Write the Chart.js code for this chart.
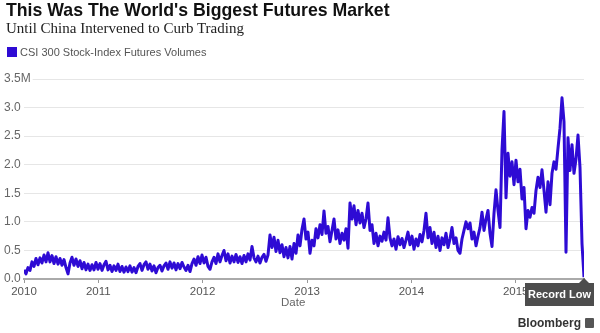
<!DOCTYPE html>
<html>
<head>
<meta charset="utf-8">
<script src="https://cdn.jsdelivr.net/npm/chart.js@4.4.1/dist/chart.umd.min.js"></script>
<style>
    html, body { margin: 0; padding: 0; background: #fff; }
    #wrap { position: relative; width: 600px; height: 333px; overflow: hidden; font-family: 'Liberation Sans', Arial, sans-serif; }
    #chart { position: absolute; left: 0; top: 0; }
    .title { position: absolute; left: 6px; top: 0; font-size: 17.7px; font-weight: bold; color: #111; white-space: nowrap; }
    .sub { position: absolute; left: 6px; top: 20px; font-family: 'Liberation Serif', 'DejaVu Serif', serif; font-size: 15px; color: #222; white-space: nowrap; }
    .legend { position: absolute; left: 7px; top: 45px; font-size: 11px; color: #555; white-space: nowrap; line-height: 14px; }
    .legend .sw { display: inline-block; width: 10px; height: 10px; background: #2e0bd4; margin-right: 3px; vertical-align: -1px; }
    .xtitle { position: absolute; left: 281px; top: 296px; font-size: 11.5px; color: #666; }
    .brand { position: absolute; right: 19px; top: 316px; font-size: 12px; font-weight: bold; color: #333; }
    .logo { position: absolute; left: 585px; top: 318px; width: 9px; height: 10px; background: #555; border-radius: 1px; }
</style>
</head>
<body>
<div id="wrap">
    <canvas id="chart" width="600" height="333"></canvas>
    <div class="title">This Was The World's Biggest Futures Market</div>
    <div class="sub">Until China Intervened to Curb Trading</div>
    <div class="legend"><span class="sw"></span>CSI 300 Stock-Index Futures Volumes</div>
    <div class="xtitle">Date</div>
    <div class="brand">Bloomberg</div>
    <div class="logo"></div>
</div>
<script>
/* weekly CSI 300 futures volume (millions of contracts) */
var START = '2010-04-16';
var volumes = [
    0.16,0.09,0.20,0.15,0.30,0.22,0.36,0.25,0.37,0.28,
    0.42,0.30,0.46,0.30,0.41,0.27,0.39,0.26,0.36,0.24,
    0.34,0.20,0.09,0.28,0.38,0.24,0.35,0.22,0.32,0.18,
    0.29,0.16,0.26,0.15,0.25,0.16,0.29,
    // 2011
    0.17,0.27,0.15,0.25,0.31,0.16,0.24,0.13,0.23,0.15,
    0.26,0.13,0.22,0.12,0.21,0.13,0.23,0.12,0.20,0.11,
    0.22,0.27,0.15,0.25,0.30,0.17,0.26,0.14,0.23,0.11,
    0.20,0.24,0.14,0.23,0.28,0.17,0.30,0.19,0.28,0.16,
    0.27,0.18,0.29,0.21,0.15,0.24,0.13,0.27,0.35,0.24,
    0.39,0.27,
    // 2012
    0.42,0.28,0.38,0.22,0.17,0.30,0.38,0.27,0.44,0.30,
    0.41,0.50,0.32,0.44,0.28,0.40,0.30,0.43,0.29,0.39,
    0.27,0.41,0.30,0.44,0.33,0.57,0.37,0.30,0.40,0.28,
    0.38,0.43,0.31,0.42,0.77,0.55,0.73,0.48,0.68,0.46,
    0.60,0.39,0.55,0.37,0.57,0.35,0.62,0.45,0.77,0.58,
    0.87,
    // 2013
    1.05,0.70,0.82,0.45,0.68,0.58,0.88,0.72,0.95,0.78,
    1.19,0.80,0.92,0.65,0.85,1.05,0.70,0.86,0.62,0.80,
    0.68,0.88,0.54,1.33,1.05,1.28,0.95,1.20,0.98,1.15,
    0.90,1.05,1.33,0.85,0.95,0.62,0.80,0.58,0.75,0.66,
    0.82,0.68,1.07,0.72,0.58,0.70,0.52,0.74,0.60,0.71,
    0.55,0.68,
    // 2014
    0.82,0.60,0.75,0.52,0.70,0.58,0.78,0.65,0.85,1.15,
    0.72,0.90,0.62,0.82,0.55,0.75,0.50,0.72,0.60,0.80,
    0.55,0.70,0.90,0.62,0.72,0.50,0.45,0.70,0.85,1.00,
    0.88,0.98,0.70,0.82,0.58,0.75,0.90,1.17,0.85,1.05,
    1.20,0.80,0.57,1.15,1.56,1.20,0.90,2.26,2.93,1.42,
    2.20,1.80,2.05,
    // 2015
    1.65,2.08,1.70,1.92,1.40,1.60,0.88,1.20,1.08,1.25,
    1.15,1.55,1.78,1.60,1.91,1.55,1.17,1.70,1.30,1.85,
    2.05,1.92,2.29,2.64,3.17,2.75,0.47,2.47,1.90,2.35,
    1.85,2.10,2.52,1.95,0.62,0.03
];
var yearTicks = ['2010', '2011', '2012', '2013', '2014', '2015'];
var yTicks = [0, 0.5, 1.0, 1.5, 2.0, 2.5, 3.0, 3.5];
var yTickLabels = ['0.0', '0.5', '1.0', '1.5', '2.0', '2.5', '3.0', '3.5M'];
var LINE = '#2e0bd4';
var FONT = "'Liberation Sans', Arial, sans-serif";

function weeksFromStart(dateStr) {
    var a = Date.parse(START + 'T00:00:00Z');
    var b = Date.parse(dateStr + 'T00:00:00Z');
    return Math.max(0, (b - a) / 86400000 / 7);
}

var points = volumes.map(function (v, i) { return { x: i, y: v }; });
var tickPos = yearTicks.map(function (y) { return weeksFromStart(y + '-01-01'); });

/* y labels sit left-aligned at the page edge and may run over the plot start */
var yLabels = {
    id: 'yLabels',
    afterDraw: function (chart) {
        var ctx = chart.ctx, sc = chart.scales.y;
        ctx.save();
        ctx.font = '12px ' + FONT;
        ctx.textAlign = 'left';
        ctx.textBaseline = 'middle';
        yTicks.forEach(function (v, i) {
            var py = sc.getPixelForValue(v);
            var w = ctx.measureText(yTickLabels[i]).width;
            ctx.fillStyle = '#fff';
            ctx.fillRect(3, py - 2, w + 3, 4);
            ctx.fillStyle = '#666';
            ctx.fillText(yTickLabels[i], 4, py);
        });
        ctx.restore();
    }
};

var recordLow = {
    id: 'recordLow',
    afterDatasetsDraw: function (chart) {
        var meta = chart.getDatasetMeta(0);
        var pt = meta.data[meta.data.length - 1];
        var ctx = chart.ctx;
        var x = pt.x, top = chart.chartArea.bottom + 4;
        var w = 69, h = 23, bx = x - 59;
        ctx.save();
        ctx.fillStyle = '#4d4d4d';
        ctx.beginPath();
        ctx.moveTo(x - 5, top);
        ctx.lineTo(x, top - 5);
        ctx.lineTo(x + 5, top);
        ctx.closePath();
        ctx.fill();
        ctx.fillRect(bx, top, w, h);
        ctx.fillStyle = '#fff';
        ctx.font = 'bold 11px ' + FONT;
        ctx.textAlign = 'center';
        ctx.textBaseline = 'middle';
        ctx.fillText('Record Low', bx + w / 2, top + h / 2 + 0.5);
        ctx.restore();
    }
};

new Chart(document.getElementById('chart'), {
    type: 'line',
    data: {
        datasets: [{
            data: points,
            borderColor: LINE,
            borderWidth: 3,
            pointRadius: 0,
            tension: 0,
            borderJoinStyle: 'round',
        }],
    },
    options: {
        responsive: false,
        animation: false,
        events: [],
        layout: { padding: { left: 4, right: 16, top: 79, bottom: 0 } },
        plugins: { legend: { display: false }, tooltip: { enabled: false } },
        scales: {
            x: {
                type: 'linear',
                min: 0,
                max: volumes.length - 1,
                afterFit: function (s) { s.height = 54; },
                afterBuildTicks: function (s) {
                    s.ticks = tickPos.map(function (p) { return { value: p }; });
                },
                grid: { drawOnChartArea: false, tickLength: 4, color: '#999' },
                border: { color: '#aaa', width: 2 },
                ticks: {
                    autoSkip: false, maxRotation: 0, padding: 2,
                    font: { size: 11.5, family: FONT },
                    color: '#555',
                    callback: function (v, i) { return yearTicks[i]; },
                },
            },
            y: {
                min: 0,
                max: 3.5,
                afterFit: function (s) { s.width = 20; },
                afterBuildTicks: function (s) {
                    s.ticks = yTicks.map(function (v) { return { value: v }; });
                },
                grid: { color: '#e6e6e6', drawTicks: false },
                border: { display: false },
                ticks: { display: false },
            },
        },
    },
    plugins: [yLabels, recordLow],
});
</script>
</body>
</html>
